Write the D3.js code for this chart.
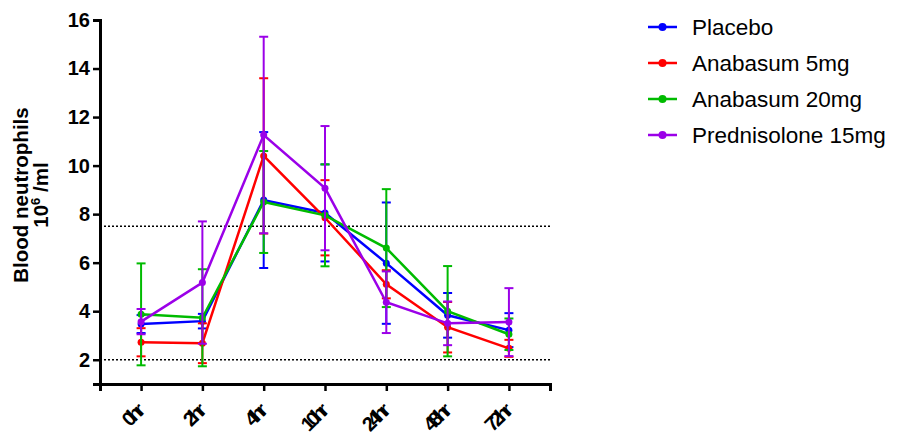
<!DOCTYPE html>
<html>
<head>
<meta charset="utf-8">
<script src="https://cdn.jsdelivr.net/npm/d3@7"></script>
<style>
	body { margin: 0; background: #fff; }
	svg { font-family: "Liberation Sans", Arial, sans-serif; }
</style>
</head>
<body>
<script>
const timepoints = ["0hr", "2hr", "4hr", "10hr", "24hr", "48hr", "72hr"];
const yTicks = [2, 4, 6, 8, 10, 12, 14, 16];
const refLines = [7.5, 2];

const seriesNames = ["Placebo", "Anabasum 5mg", "Anabasum 20mg", "Prednisolone 15mg"];
const seriesColors = ["#0000ff", "#ff0000", "#00bb00", "#9b00e8"];

// means and SEM
const placeboMean = [3.47, 3.59, 8.58, 8.05, 5.98, 3.83, 3.22];
const placeboErr = [0.37, 0.30, 2.8, 2.0, 2.5, 0.92, 0.7];
const ana5Mean = [2.72, 2.68, 10.4, 7.85, 5.11, 3.34, 2.47];
const ana5Err = [0.58, 0.82, 3.2, 1.55, 0.58, 1.04, 0.35];
const ana20Mean = [3.87, 3.73, 8.5, 7.95, 6.6, 4.0, 3.05];
const ana20Err = [2.1, 2.0, 2.1, 2.1, 2.43, 1.86, 0.65];
const predMean = [3.57, 5.18, 11.26, 9.07, 4.37, 3.5, 3.55];
const predErr = [0.52, 2.52, 4.05, 2.56, 1.27, 0.9, 1.4];

const means = [placeboMean, ana5Mean, ana20Mean, predMean];
const errs = [placeboErr, ana5Err, ana20Err, predErr];

const series = seriesNames.map((name, i) => ({
	name,
	color: seriesColors[i],
	values: timepoints.map((t, j) => ({ t, mean: means[i][j], err: errs[i][j] })),
}));

const width = 898;
const height = 440;

const svg = d3.select("body")
	.append("svg")
	.attr("width", width)
	.attr("height", height);

const x = d3.scalePoint()
	.domain(timepoints)
	.range([100, 550])
	.padding(0.67);

const y = d3.scaleLinear()
	.domain([1, 16])
	.range([384, 20]);

// dotted reference lines
svg.append("g")
	.selectAll("line")
	.data(refLines)
	.join("line")
	.attr("x1", 100)
	.attr("x2", 550)
	.attr("y1", (d) => y(d))
	.attr("y2", (d) => y(d))
	.attr("stroke", "#000")
	.attr("stroke-width", 1.5)
	.attr("stroke-dasharray", "2,2");

// axes
const yAxis = svg.append("g")
	.attr("transform", "translate(100,0)")
	.call(d3.axisLeft(y).tickValues(yTicks).tickSizeOuter(0).tickSize(7).tickPadding(3));

const xAxis = svg.append("g")
	.attr("transform", "translate(0,384)")
	.call(d3.axisBottom(x).tickSizeOuter(0).tickSize(7));

[yAxis, xAxis].forEach((g) => {
	g.select(".domain").attr("stroke-width", 3);
	g.selectAll(".tick line").attr("stroke-width", 2.5);
});

yAxis.selectAll("text")
	.attr("font-size", 20)
	.attr("font-weight", "bold")
	.attr("fill", "#000");

xAxis.selectAll("text")
	.attr("font-size", 20)
	.attr("font-weight", "bold")
	.attr("fill", "#000")
	.attr("letter-spacing", -4)
	.attr("text-anchor", "end")
	.attr("dy", null)
	.attr("y", 0)
	.attr("transform", "translate(2,30) rotate(-45)");

// y axis title
const yTitle = svg.append("text")
	.attr("transform", "translate(28,195) rotate(-90)")
	.attr("text-anchor", "middle")
	.attr("font-size", 20.5)
	.attr("font-weight", "bold");
yTitle.append("tspan").attr("x", 0).attr("y", 0).text("Blood neutrophils");
const line2 = yTitle.append("tspan").attr("x", 0).attr("dy", 20);
line2.append("tspan").text("10");
line2.append("tspan").attr("font-size", 13).attr("dy", -8).text("6");
line2.append("tspan").attr("dy", 8).text(" /ml");

// series
const line = d3.line()
	.x((d) => x(d.t))
	.y((d) => y(d.mean));

const capW = 4.5;

const groups = svg.append("g")
	.selectAll("g")
	.data(series)
	.join("g");

groups.each(function (s) {
	const g = d3.select(this);
	const bars = g.selectAll(".err")
		.data(s.values)
		.join("g")
		.attr("class", "err")
		.attr("stroke", s.color)
		.attr("stroke-width", 2);
	bars.append("line")
		.attr("x1", (d) => x(d.t))
		.attr("x2", (d) => x(d.t))
		.attr("y1", (d) => y(d.mean - d.err))
		.attr("y2", (d) => y(d.mean + d.err));
	bars.append("line")
		.attr("x1", (d) => x(d.t) - capW)
		.attr("x2", (d) => x(d.t) + capW)
		.attr("y1", (d) => y(d.mean + d.err))
		.attr("y2", (d) => y(d.mean + d.err));
	bars.append("line")
		.attr("x1", (d) => x(d.t) - capW)
		.attr("x2", (d) => x(d.t) + capW)
		.attr("y1", (d) => y(d.mean - d.err))
		.attr("y2", (d) => y(d.mean - d.err));

	g.append("path")
		.datum(s.values)
		.attr("d", line)
		.attr("fill", "none")
		.attr("stroke", s.color)
		.attr("stroke-width", 2.5);

	g.selectAll("circle")
		.data(s.values)
		.join("circle")
		.attr("cx", (d) => x(d.t))
		.attr("cy", (d) => y(d.mean))
		.attr("r", 3.5)
		.attr("fill", s.color);
});

// legend
const legend = svg.append("g").attr("transform", "translate(648,27)");
const rows = legend.selectAll("g")
	.data(series)
	.join("g")
	.attr("transform", (d, i) => `translate(0,${i * 36})`);
rows.append("line")
	.attr("x1", 0)
	.attr("x2", 29)
	.attr("stroke", (d) => d.color)
	.attr("stroke-width", 2.5);
rows.append("circle")
	.attr("cx", 14.5)
	.attr("r", 4)
	.attr("fill", (d) => d.color);
rows.append("text")
	.attr("x", 44)
	.attr("dy", "0.36em")
	.attr("font-size", 22.5)
	.text((d) => d.name);
</script>
</body>
</html>
